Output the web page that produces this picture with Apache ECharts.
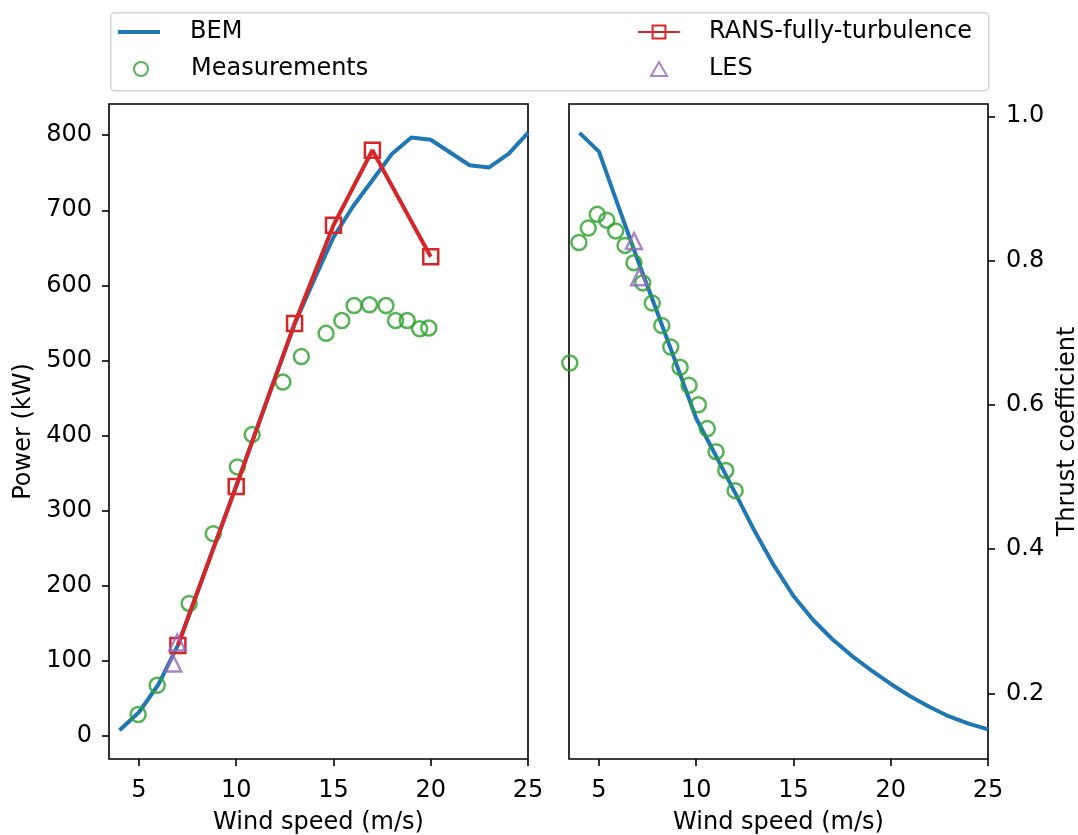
<!DOCTYPE html>
<html>
<head>
<meta charset="utf-8">
<script src="https://cdn.jsdelivr.net/npm/echarts@6/dist/echarts.min.js"></script>
<style>
html,body{margin:0;padding:0;background:#fff;}
#chart{width:1078px;height:835px;}
</style>
</head>
<body>
<div id="chart"></div>
<script>
// ---- data ----
const windBEM = [4,5,6,7,8,9,10,11,12,13,14,15,16,17,18,19,20,21,22,23,24,25];
const powerBEM = [7,31,68,120,191,262,333,405,477,548,607,664,705,740,775,797,794,777,760,757,775,803];
const ctBEM = [0.977,0.951,0.875,0.800,0.728,0.655,0.581,0.530,0.478,0.425,0.377,0.335,0.302,0.275,0.252,0.232,0.213,0.196,0.181,0.168,0.158,0.150];

const measWindP = [4.96,5.94,7.58,8.82,10.06,10.82,12.4,13.35,14.62,15.43,16.06,16.85,17.7,18.19,18.79,19.43,19.9];
const measPower = [28,67,176,269,358,401,471,505,536,553,573,574,573,553,553,542,543];

const measWindCT = [3.5,3.97,4.45,4.91,5.40,5.86,6.34,6.80,7.25,7.74,8.23,8.69,9.17,9.63,10.11,10.57,11.02,11.52,12.0];
const measCT = [0.658,0.825,0.845,0.864,0.856,0.841,0.821,0.797,0.769,0.741,0.710,0.680,0.652,0.627,0.600,0.567,0.535,0.509,0.481];

const ransWind = [7,10,13,15,17,20];
const ransPower = [120,332,549,680,780,638];

const lesWindP = [6.97,6.76];
const lesPower = [124,96];
const lesWindCT = [6.80,7.07];
const lesCT = [0.827,0.777];

const xTicks = [5,10,15,20,25];
const powerTicks = [0,100,200,300,400,500,600,700,800];
const ctTicks = [0.2,0.4,0.6,0.8,1.0];

const xRange = [3.46, 25];
const powerRange = [-31.3, 841.6];
const ctRange = [0.109, 1.017];

// ---- styles ----
const C_BLUE = '#1f77b4', C_GREEN = '#2ca02c', C_RED = '#d62728', C_PURPLE = '#9467bd';
const FONT = 'DejaVu Sans';
const FS = 24;
const LW = 4;
const MS = 15;
const MEW = 2.5;
const pairs = (xs, ys) => xs.map((x, i) => [x, ys[i]]);

function xAxisDef(gridIndex) {
  return {
    type: 'value', gridIndex, min: xRange[0], max: xRange[1],
    name: 'Wind speed (m/s)', nameLocation: 'middle', nameGap: 52,
    nameTextStyle: {fontFamily: FONT, fontSize: FS, color: '#000'},
    axisLine: {show: false, onZero: false},
    axisTick: {show: true, length: 7, customValues: xTicks, lineStyle: {color: '#000', width: 1.6}},
    axisLabel: {customValues: xTicks, margin: 20, fontFamily: FONT, fontSize: FS, color: '#000'},
    splitLine: {show: false}
  };
}

function legendDef(name, icon, left, cy, w, h, pad) {
  const d = {name};
  if (icon) d.icon = icon;
  return {
    data: [d], left, top: cy - 14, itemWidth: w, itemHeight: h,
    textStyle: {fontFamily: FONT, fontSize: FS, color: '#000', lineHeight: 28, padding: [0, 0, 0, pad]},
    selectedMode: false, padding: 0
  };
}

const gridBase = {top: 104, width: 419, height: 655, show: true, borderColor: '#000', borderWidth: 1.6,
  backgroundColor: 'transparent', containLabel: false, outerBoundsMode: 'none'};

const option = {
  animation: false,
  backgroundColor: '#fff',
  graphic: [{
    type: 'rect', left: 110, top: 12, z: -1,
    shape: {width: 878, height: 78, r: 4},
    style: {fill: '#fff', stroke: '#d4d4d4', lineWidth: 1.5}
  }],
  legend: [
    legendDef('BEM', 'rect', 118, 32, 42, 4, 25),
    legendDef('Measurements', 'circle', 133, 69, 14, 14, 38),
    legendDef('RANS-fully-turbulence', null, 637, 32, 42, 16, 24),
    legendDef('LES', 'triangle', 650, 69, 16, 14, 37)
  ],
  grid: [
    Object.assign({left: 109}, gridBase),
    Object.assign({left: 569}, gridBase)
  ],
  xAxis: [xAxisDef(0), xAxisDef(1)],
  yAxis: [
    {
      type: 'value', gridIndex: 0, min: powerRange[0], max: powerRange[1], position: 'left',
      name: 'Power (kW)', nameLocation: 'middle', nameGap: 73, nameRotate: 90,
      nameTextStyle: {fontFamily: FONT, fontSize: FS, color: '#000'},
      axisLine: {show: false, onZero: false},
      axisTick: {show: true, length: 7, customValues: powerTicks, lineStyle: {color: '#000', width: 1.6}},
      axisLabel: {customValues: powerTicks, margin: 17, fontFamily: FONT, fontSize: FS, color: '#000'},
      splitLine: {show: false}
    },
    {
      type: 'value', gridIndex: 1, min: ctRange[0], max: ctRange[1], position: 'right',
      name: 'Thrust coefficient', nameLocation: 'middle', nameGap: 68, nameRotate: 90,
      nameTextStyle: {fontFamily: FONT, fontSize: FS, color: '#000'},
      axisLine: {show: false, onZero: false},
      axisTick: {show: true, length: 7, customValues: ctTicks, lineStyle: {color: '#000', width: 1.6}},
      axisLabel: {customValues: ctTicks, margin: 18, fontFamily: FONT, fontSize: FS, color: '#000',
        formatter: v => Number(v).toFixed(1)},
      splitLine: {show: false}
    }
  ],
  series: [
    {
      name: 'BEM', type: 'line', xAxisIndex: 0, yAxisIndex: 0,
      data: pairs(windBEM, powerBEM), symbol: 'none', color: C_BLUE,
      lineStyle: {color: C_BLUE, width: LW}, z: 2
    },
    {
      name: 'Measurements', type: 'scatter', xAxisIndex: 0, yAxisIndex: 0,
      data: pairs(measWindP, measPower), symbol: 'circle', symbolSize: MS, color: C_GREEN,
      itemStyle: {color: 'rgba(0,0,0,0)', borderColor: C_GREEN, borderWidth: MEW}, z: 3
    },
    {
      name: 'RANS-fully-turbulence', type: 'line', xAxisIndex: 0, yAxisIndex: 0,
      data: pairs(ransWind, ransPower), symbol: 'rect', symbolSize: MS, showSymbol: true, color: C_RED,
      lineStyle: {color: C_RED, width: LW},
      itemStyle: {color: 'rgba(0,0,0,0)', borderColor: C_RED, borderWidth: MEW}, z: 4
    },
    {
      name: 'LES', type: 'scatter', xAxisIndex: 0, yAxisIndex: 0,
      data: pairs(lesWindP, lesPower), symbol: 'triangle', symbolSize: 16, color: C_PURPLE,
      itemStyle: {color: 'rgba(0,0,0,0)', borderColor: C_PURPLE, borderWidth: MEW}, z: 5
    },
    {
      name: 'BEM', type: 'line', xAxisIndex: 1, yAxisIndex: 1,
      data: pairs(windBEM, ctBEM), symbol: 'none', color: C_BLUE,
      lineStyle: {color: C_BLUE, width: LW}, z: 2
    },
    {
      name: 'Measurements', type: 'scatter', xAxisIndex: 1, yAxisIndex: 1,
      data: pairs(measWindCT, measCT), symbol: 'circle', symbolSize: MS, color: C_GREEN,
      itemStyle: {color: 'rgba(0,0,0,0)', borderColor: C_GREEN, borderWidth: MEW}, z: 3
    },
    {
      name: 'LES', type: 'scatter', xAxisIndex: 1, yAxisIndex: 1,
      data: pairs(lesWindCT, lesCT), symbol: 'triangle', symbolSize: 16, color: C_PURPLE,
      itemStyle: {color: 'rgba(0,0,0,0)', borderColor: C_PURPLE, borderWidth: MEW}, z: 5
    }
  ]
};

const chart = echarts.init(document.getElementById('chart'), null, {renderer: 'canvas'});
chart.setOption(option);
</script>
</body>
</html>
